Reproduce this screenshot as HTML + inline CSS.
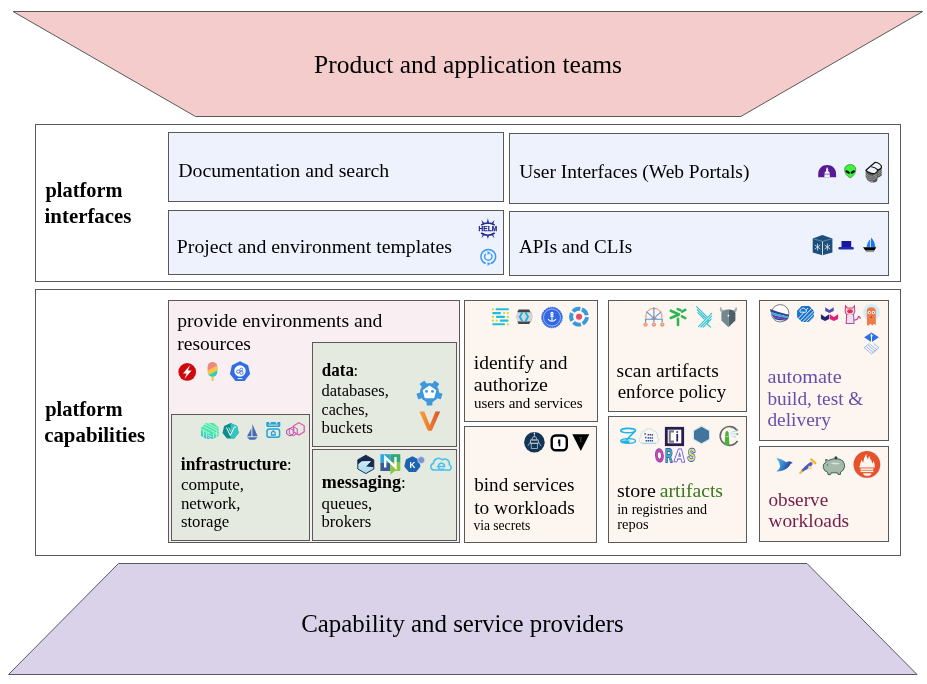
<!DOCTYPE html>
<html><head><meta charset="utf-8"><title>Platform</title>
<style>html,body{margin:0;padding:0;background:#fff;width:927px;height:684px;overflow:hidden}
text{white-space:pre}</style></head>
<body>
<svg width="927" height="684" viewBox="0 0 927 684" font-family="Liberation Serif, serif" style="display:block;will-change:transform"><polygon points="13,11.5 922.7,11.5 740.8,116.5 195.5,116.5" fill="#f4cccc" stroke="#595959" stroke-width="1"/>
<polygon points="118.5,563.5 807,563.5 917,674.5 8.5,674.5" fill="#d9d2e9" stroke="#595959" stroke-width="1"/>
<rect x="35.5" y="124.5" width="865" height="157" fill="#ffffff" stroke="#595959" stroke-width="1"/>
<rect x="168.5" y="132.5" width="335" height="69" fill="#eef2fc" stroke="#595959" stroke-width="1"/>
<rect x="509.5" y="133.5" width="379" height="70" fill="#eef2fc" stroke="#595959" stroke-width="1"/>
<rect x="168.5" y="210.5" width="335" height="64" fill="#eef2fc" stroke="#595959" stroke-width="1"/>
<rect x="509.5" y="211.5" width="379" height="64" fill="#eef2fc" stroke="#595959" stroke-width="1"/>
<rect x="35.5" y="289.5" width="865" height="266" fill="#ffffff" stroke="#595959" stroke-width="1"/>
<rect x="168.5" y="300.5" width="291" height="242" fill="#f9eef2" stroke="#595959" stroke-width="1"/>
<rect x="171.5" y="414.5" width="138" height="126" fill="#e5eae0" stroke="#595959" stroke-width="1"/>
<rect x="312.5" y="342.5" width="144" height="104" fill="#e5eae0" stroke="#595959" stroke-width="1"/>
<rect x="312.5" y="449.5" width="144" height="91" fill="#e5eae0" stroke="#595959" stroke-width="1"/>
<rect x="464.5" y="300.5" width="133" height="121" fill="#fdf5ef" stroke="#595959" stroke-width="1"/>
<rect x="464.5" y="426.5" width="132" height="116" fill="#fdf5ef" stroke="#595959" stroke-width="1"/>
<rect x="608.5" y="300.5" width="138" height="111" fill="#fdf5ef" stroke="#595959" stroke-width="1"/>
<rect x="608.5" y="416.5" width="138" height="126" fill="#fdf5ef" stroke="#595959" stroke-width="1"/>
<rect x="759.5" y="300.5" width="129" height="140" fill="#fdf5ef" stroke="#595959" stroke-width="1"/>
<rect x="759.5" y="446.5" width="129" height="95" fill="#fdf5ef" stroke="#595959" stroke-width="1"/>
<defs>
<linearGradient id="gV" x1="0" y1="0" x2="1" y2="0"><stop offset="0" stop-color="#f7a23a"/><stop offset="0.5" stop-color="#ef7a2e"/><stop offset="1" stop-color="#d9532a"/></linearGradient>
<linearGradient id="gStripe" x1="0.3" y1="0" x2="0" y2="1"><stop offset="0" stop-color="#44eca8"/><stop offset="0.55" stop-color="#42e6ae"/><stop offset="1" stop-color="#3a9cee"/></linearGradient>
<linearGradient id="gBird" x1="0" y1="0" x2="1" y2="0.4"><stop offset="0" stop-color="#6ab9e6"/><stop offset="0.5" stop-color="#3a88cf"/><stop offset="1" stop-color="#23378a"/></linearGradient>
<linearGradient id="gCat" x1="0" y1="0" x2="1" y2="1"><stop offset="0" stop-color="#e8305a"/><stop offset="1" stop-color="#8a60c8"/></linearGradient>
<rect id="tooth" x="-2.9" y="-12.8" width="5.8" height="5" rx="0.6"/>
<clipPath id="cHexZ"><polygon points="365.8,455.2 373.8,459.8 373.8,469 365.8,473.6 357.8,469 357.8,459.8"/></clipPath>
<linearGradient id="gZ" x1="0" y1="0" x2="0" y2="1"><stop offset="0" stop-color="#d4eef7"/><stop offset="1" stop-color="#98d4ec"/></linearGradient>
<clipPath id="cPop"><rect x="207.8" y="362.2" width="9.5" height="14.8" rx="4.7"/></clipPath>
<clipPath id="cHexG"><polygon points="206,422.9 213.6,422.9 218.9,427.8 218.9,435.8 213.2,439 206.4,439 200.9,435.8 200.9,427.8"/></clipPath>
<clipPath id="cBP"><polygon points="802,306.1 809.2,306.1 814,311 814,317.2 809.2,322.1 802,322.1 797.1,317.2 797.1,311"/></clipPath>
</defs>

<!-- ===== platform interfaces ===== -->
<!-- HELM -->
<g transform="translate(487.9,228.5)" fill="#232a8e">
 <path d="M-6.8,-3.3 Q0,-7.7 6.8,-3.3" fill="none" stroke="#232a8e" stroke-width="1.6"/>
 <polygon points="-1.2,-5 0,-10.4 1.2,-5"/>
 <polygon points="-5.2,-4 -6.4,-8.6 -3.2,-5"/>
 <polygon points="5.2,-4 6.6,-8.6 3.2,-5"/>
 <text x="0" y="2.5" font-family="Liberation Sans, sans-serif" font-weight="bold" font-size="6.6" text-anchor="middle" textLength="18.6" lengthAdjust="spacingAndGlyphs" stroke="#232a8e" stroke-width="0.25">HELM</text>
 <path d="M-6.8,4.5 Q0,9 6.8,4.5" fill="none" stroke="#232a8e" stroke-width="1.6"/>
 <polygon points="-1.2,6.4 0,10.5 1.2,6.4"/>
 <polygon points="-4.9,5 -6.4,10 -3.2,5.8"/>
 <polygon points="4.9,5 6.6,10 3.2,5.8"/>
</g>
<!-- circular arrows -->
<g transform="translate(488.3,256.6)" fill="none" stroke="#3e9bf2">
 <path d="M-2.6,6.9 A7.3,7.3 0 1 1 2.6,6.9" stroke-width="1.5"/>
 <path d="M2.3,-2.9 A3.7,3.7 0 1 1 -2.3,-2.9" stroke-width="1.4"/>
 <polygon points="-0.8,-5.6 2.4,-3.7 -0.8,-1.8" fill="#3e9bf2" stroke="none"/>
 <polygon points="-0.8,5.3 2.6,7.2 -0.8,9.1" fill="#3e9bf2" stroke="none"/>
</g>
<!-- purple dome -->
<path d="M818.2,177.2 L818.2,174.2 C818.2,168.4 822.2,165.1 827.15,165.1 C832.1,165.1 836.1,168.4 836.1,174.2 L836.1,177.2 Z" fill="#581b95"/>
<polygon points="827.1,166.9 825.9,169.8 826.3,170.8 824.7,172.6 824.3,177.3 830,177.3 829.6,172.6 828,170.8 828.4,169.8" fill="#eef2fc"/>
<line x1="824.5" y1="174.2" x2="829.8" y2="174.2" stroke="#581b95" stroke-width="0.6"/>
<!-- alien -->
<path d="M850.2,178 C846.4,176 844.6,172.6 844.6,169.6 C844.6,166.4 847.2,164.6 850.2,164.6 C853.2,164.6 855.8,166.4 855.8,169.6 C855.8,172.6 854,176 850.2,178 Z" fill="#3ef23e" stroke="#1f7a1f" stroke-width="0.6"/>
<ellipse cx="847.6" cy="172" rx="2.4" ry="1.2" transform="rotate(28 847.6 172)" fill="#000"/>
<ellipse cx="852.8" cy="172" rx="2.4" ry="1.2" transform="rotate(-28 852.8 172)" fill="#000"/>
<!-- backstage stack -->
<g>
 <path d="M865.7,170.3 L865.7,177.3 Q868.5,182.6 872.3,182.6 Q876,182.6 877.2,181 L877.6,177.7 Q879.5,177.7 881.7,175.6 L881.7,166.6 L875.2,162.1 Z" fill="#565656"/>
 <g stroke="#bdbdbd" stroke-width="0.6" fill="none">
  <path d="M865.7,173 Q869,177 872.5,176.4 Q876,175.6 876.5,172.6"/>
  <path d="M865.7,174.8 Q869,178.8 872.5,178.2 Q876,177.4 876.7,174.4"/>
  <path d="M865.7,176.6 Q869,180.6 872.5,180 Q876,179.2 876.9,176.2"/>
  <path d="M867.2,180.4 Q870,182 873,181.6"/>
  <path d="M877.6,172 Q880.5,171.4 881.7,169.4"/><path d="M877.6,173.8 Q880.5,173.2 881.7,171.2"/><path d="M877.6,175.6 Q880.5,175 881.7,173"/>
 </g>
 <path d="M865.9,170.3 L875.2,162.3 Q879.8,163.2 881.4,166.2 Q882,168.8 877.8,169.9 Q877.4,172.3 875.2,173.3 Q871.8,174.4 868.2,172.1 Z" fill="#eef2fc" stroke="#111" stroke-width="1.15" stroke-linejoin="round"/>
 <path d="M871.3,166.7 Q875.6,167.3 877.8,169.9" fill="none" stroke="#111" stroke-width="1.15"/>
</g>
<!-- blue cube -->
<polygon points="812.7,238.6 822.4,235 832.4,238.6 832.4,252.6 822.4,255.3 812.7,252.6" fill="#1d4f7c"/>
<polyline points="813.5,238.9 822.5,241.4 831.6,238.9" fill="none" stroke="#8fa9c2" stroke-width="0.6"/>
<line x1="822.5" y1="241.5" x2="822.5" y2="255.2" stroke="#eef2fc" stroke-width="0.9"/>
<g stroke="#dfe7ef" stroke-width="0.8" fill="none">
 <path d="M817.6,243.5 V250.5 M814.9,245 L820.3,249 M820.3,245 L814.9,249"/>
 <path d="M827.4,243.5 V250.5 M824.7,245 L830.1,249 M830.1,245 L824.7,249"/>
</g>
<!-- hat -->
<rect x="841.5" y="241" width="9.7" height="6.4" fill="#16199c"/>
<rect x="838.4" y="247" width="15.4" height="2.6" rx="1.1" fill="#232ab0"/>
<!-- sailboat -->
<path d="M866.6,247.6 Q867.3,241.6 870.2,239.6 L870.2,247.6 Z" fill="#2b80f6"/>
<path d="M871,247.6 L871,237.5 Q874.6,240.5 875.4,247.6 Z" fill="#1f76f3"/>
<path d="M863,247.3 L876.3,247.3 L874.3,250.6 L865.4,250.6 Z" fill="#000"/>
<line x1="865.8" y1="251.6" x2="874.2" y2="251.6" stroke="#888" stroke-width="0.9"/>

<!-- ===== provide environments ===== -->
<circle cx="187.2" cy="371.9" r="8.85" fill="#cf0a0a"/>
<polygon points="190.2,364.9 183,373.4 186.7,373.4 184.3,379 191.6,370.5 187.9,370.5" fill="#fff"/>
<g clip-path="url(#cPop)">
 <rect x="207" y="361" width="11" height="17" fill="#2ecfb2"/>
 <polygon points="207,361 218,361 218,370 207,376" fill="#f8c542"/>
 <polygon points="207,361 218,361 218,365 207,371" fill="#f2877f"/>
</g>
<rect x="211.4" y="376.6" width="2.4" height="4.6" rx="1.2" fill="#f6c56a"/>
<polygon points="240,361.3 248.1,365.2 250.1,374 244.5,381.1 235.5,381.1 229.9,374 231.9,365.2" fill="#326ce5"/>
<circle cx="240" cy="371" r="5.7" fill="#fff"/>
<g fill="none" stroke="#326ce5" stroke-width="0.9"><circle cx="238.2" cy="371.6" r="1.6"/><circle cx="241.3" cy="369.5" r="1.4"/><circle cx="241.5" cy="372.8" r="1.6"/></g>
<rect x="237.6" y="378.2" width="4.8" height="0.9" fill="#fff"/>

<!-- ===== infrastructure ===== -->
<g clip-path="url(#cHexG)">
 <rect x="200" y="422" width="20" height="18" fill="url(#gStripe)"/>
 <g stroke="#d4eee2" stroke-width="0.85" fill="none">
  <path d="M200,424.6 L219,434.8 M201.5,422.3 L220,432.2 M198.5,427.4 L210,433.6 M204.5,421.5 L220,429.8"/>
  <path d="M203.6,430.2 V441 M206.6,432.6 V441 M213.4,433.4 V441 M216.4,431.6 V441"/>
  <path d="M208.2,435 L211.6,436.8 M208.2,437.4 L211.6,439.2"/>
 </g>
</g>
<polygon points="230.6,422.9 237.1,426 238.7,433 234.2,438.6 227,438.6 222.5,433 224.1,426" fill="#0f8b8b"/>
<polygon points="230.6,422.9 237.1,426 238.7,433 234.2,438.6 230.6,438.6" fill="#33c6c1"/>
<polyline points="226.4,427.5 230.3,435.5 234.4,427" fill="none" stroke="#fff" stroke-width="1"/>
<polyline points="228.8,427.5 230.6,431.5" fill="none" stroke="#fff" stroke-width="0.8"/>
<circle cx="235.2" cy="427" r="0.8" fill="#fff"/>
<polygon points="252.4,424.1 257.7,436.3 252.4,436.3" fill="#466cb2"/>
<polygon points="251.3,428.4 251.3,436.3 247,436.3" fill="#466cb2"/>
<polygon points="247,437.2 257.7,437.2 254.8,439.8 249.6,439.8" fill="#466cb2"/>
<!-- rook -->
<path d="M266.3,422 H269.2 V423.6 H270.8 V422 H275.8 V423.6 H277.4 V422 H280.3 V425.4 Q280.3,426.9 278.8,426.9 H267.8 Q266.3,426.9 266.3,425.4 Z" fill="#26a3d4"/>
<rect x="268.4" y="424.6" width="9.8" height="0.9" fill="#e6ebe2"/>
<rect x="267" y="428.9" width="12.6" height="8.4" rx="2.4" fill="none" stroke="#26a3d4" stroke-width="1.5"/>
<path d="M271.5,435 V432.5 L273.3,430.8 L275.1,432.5 V435 Z" fill="none" stroke="#26a3d4" stroke-width="1.3"/>
<!-- pink hexagons -->
<g fill="none">
 <polygon points="290,428.3 293.3,430.2 293.3,434 290,435.9 286.7,434 286.7,430.2" stroke="#b13fb0" stroke-width="1"/>
 <polygon points="293.3,426.6 297.3,428.9 297.3,433.5 293.3,435.8 289.3,433.5 289.3,428.9" stroke="#c64bb2" stroke-width="1"/>
 <polygon points="298.9,422.7 304.2,425.8 304.2,431.9 298.9,435 293.6,431.9 293.6,425.8" stroke="#e656ae" stroke-width="1.3"/>
</g>

<!-- ===== data ===== -->
<g transform="translate(429.5,392.6)" fill="#3d98de">
 <circle r="9.6"/>
 <use href="#tooth" transform="rotate(-36)"/><use href="#tooth" transform="rotate(36)"/>
 <use href="#tooth" transform="rotate(-108)"/><use href="#tooth" transform="rotate(108)"/><use href="#tooth" transform="rotate(180)"/>
 <polygon points="0,-6.4 6.1,-2.1 4.2,4.9 -4.2,4.9 -6.1,-2.1" fill="#fff" stroke="#fff" stroke-width="1.3" stroke-linejoin="round"/>
 <circle cx="-3" cy="-1.2" r="1.45"/><circle cx="3" cy="-1.2" r="1.45"/>
</g>
<polygon points="419.3,411.6 424.2,411.6 429.8,425.2 435.4,411.6 440.2,411.6 431.7,430.8 427.9,430.8" fill="url(#gV)"/>

<!-- ===== messaging ===== -->
<polygon points="365.8,455.2 373.8,459.8 373.8,469 365.8,473.6 357.8,469 357.8,459.8" fill="#152a4c"/>
<polygon clip-path="url(#cHexZ)" points="357,465.2 361.8,461.3 371.2,461.1 366.2,466.4 374.5,467.4 374.5,475 357,475" fill="url(#gZ)"/>
<polygon points="365.8,455.2 373.8,459.8 373.8,469 365.8,473.6 357.8,469 357.8,459.8" fill="none" stroke="#152a4c" stroke-width="0.9"/>
<rect x="380.4" y="454.2" width="9.95" height="8.4" fill="#27aae1"/>
<rect x="390.35" y="454.2" width="9.95" height="8.4" fill="#34a574"/>
<rect x="380.4" y="462.6" width="9.95" height="8.4" fill="#375c93"/>
<rect x="390.35" y="462.6" width="9.95" height="8.4" fill="#8dc63f"/>
<polygon points="390.4,470.9 394.8,470.9 390.4,474.8" fill="#8dc63f"/>
<polyline points="385.2,467.6 385.2,457.4 395.5,467.2 395.5,457" fill="none" stroke="#fff" stroke-width="2.3" stroke-linejoin="miter"/>
<polygon points="412.4,456.3 418.9,459.4 420.5,466.4 416,472.1 408.8,472.1 404.3,466.4 405.9,459.4" fill="#1c63b2"/>
<circle cx="421.2" cy="460.1" r="3.5" fill="#7896d4" stroke="#e6ebe2" stroke-width="0.6"/>
<text x="412.4" y="468" font-family="Liberation Sans, sans-serif" font-weight="bold" font-size="8.2" fill="#fff" text-anchor="middle">K</text>
<g fill="none" stroke="#43c2f2" stroke-width="1.5" stroke-linecap="round">
 <path d="M434.2,470.1 A3.4,3.4 0 0 1 433.4,463.4 A5.2,5.2 0 0 1 442.3,459.9 A4.6,4.6 0 0 1 449.3,464.8 A2.8,2.8 0 0 1 447.4,470.1 Z"/>
 <path d="M437.6,466.4 H444.6 A3.2,3.2 0 1 0 443.4,468.9"/>
</g>

<!-- ===== identify ===== -->
<g stroke="#1fbfdc" stroke-width="2.1" stroke-linecap="round">
 <line x1="496.6" y1="309.3" x2="507.9" y2="309.3"/>
 <line x1="493.2" y1="313.1" x2="500" y2="313.1"/>
 <line x1="496.9" y1="316.9" x2="504" y2="316.9"/>
 <line x1="500.7" y1="320.6" x2="507.5" y2="320.6"/>
 <line x1="493.2" y1="324.3" x2="504" y2="324.3"/>
</g>
<g fill="#c6dc30">
 <circle cx="492.9" cy="309.3" r="1.15"/><circle cx="504.1" cy="313.1" r="1.15"/><circle cx="507.9" cy="313.1" r="1.15"/>
 <circle cx="492.9" cy="316.9" r="1.15"/><circle cx="507.9" cy="316.9" r="1.15"/>
 <circle cx="492.9" cy="320.6" r="1.15"/><circle cx="496.7" cy="320.6" r="1.15"/><circle cx="507.9" cy="324.3" r="1.15"/>
</g>
<!-- keycloak -->
<polygon points="515.4,316.8 518,311.8 530,311.8 532.2,316.8 530,321.8 518,321.8" fill="#d6d6d6"/>
<polygon points="530,311.8 532.2,316.8 530,321.8 531.3,321.8 532.6,316.8 531.3,311.8" fill="#bbb"/>
<polygon points="518.6,309.6 529.2,309.6 530.6,312.2 517.2,312.2" fill="#454545"/>
<polygon points="517.2,321.4 530.6,321.4 529.2,324 518.6,324" fill="#454545"/>
<polyline points="522.3,312.4 519.8,316.8 522.3,321.2" fill="none" stroke="#13b3e8" stroke-width="1.9"/>
<polyline points="525.5,312.4 528,316.8 525.5,321.2" fill="none" stroke="#13b3e8" stroke-width="1.9"/>
<!-- cert-manager badge -->
<g transform="translate(552,317.5)">
 <circle r="10.3" fill="#3468e2" stroke="#3468e2" stroke-width="1" stroke-dasharray="1.4 0.9"/>
 <circle r="8.5" fill="none" stroke="#dfe8fb" stroke-width="0.6"/>
 <g stroke="#fff" stroke-width="1.1" fill="none"><circle cx="0" cy="-4" r="1.1"/><line x1="0" y1="-2.9" x2="0" y2="3.6"/><path d="M-4,1.6 Q0,6 4,1.6"/><line x1="-1.8" y1="-1.4" x2="1.8" y2="-1.4"/></g>
</g>
<!-- rotor -->
<g transform="translate(579,316.7)">
 <circle r="7.9" fill="none" stroke="#3b99da" stroke-width="3.9" stroke-dasharray="8.0 1.93" transform="rotate(-69)"/>
 <circle r="3" fill="#e84a5e"/>
</g>

<!-- ===== bind ===== -->
<circle cx="534.4" cy="442.2" r="10.3" fill="#113457"/>
<g stroke="#dfe6ee" stroke-width="0.65" fill="none">
 <line x1="534.4" y1="433.6" x2="534.4" y2="436.6"/>
 <path d="M531.6,440 L533,436.8 H535.8 L537.2,440 Z"/>
 <rect x="530.6" y="440" width="7.6" height="3.2"/>
 <rect x="531.2" y="443.2" width="6.4" height="5.2"/>
 <path d="M530.6,441.6 L527.8,446 M538.2,441.6 L541,446"/>
</g>
<circle cx="534.4" cy="433.4" r="0.8" fill="#dfe6ee"/>
<rect x="551.7" y="435.5" width="15.1" height="14.7" rx="4" fill="#fff" stroke="#000" stroke-width="2.4"/>
<path d="M558.2,439.6 H560.3 V446.2 H558.6 V443.6 L557.6,442.8 L558.2,442 Z" fill="#000"/>
<polygon points="572.3,434.3 589.3,434.3 580.8,451.1" fill="#000"/>
<g fill="#777"><rect x="579.5" y="437.3" width="1" height="1"/><rect x="581.1" y="437.3" width="1" height="1"/><rect x="580.3" y="438.9" width="1" height="1"/><rect x="580.3" y="440.5" width="1" height="1.6"/></g>

<!-- ===== scan ===== -->
<g fill="none" stroke="#ec8a66" stroke-width="1.0">
 <path d="M645.9,318.6 Q645.2,309.2 653.9,308.2 Q662.6,309.2 661.9,318.6"/>
 <path d="M651.6,318.4 A2.4,2.4 0 0 1 656.2,318.4 Z" fill="#e8865e"/>
 <g fill="#f2b39a"><circle cx="645.5" cy="324.6" r="1.7"/><circle cx="653.9" cy="324.6" r="1.7"/><circle cx="662.3" cy="324.6" r="1.7"/></g>
</g>
<g fill="none" stroke="#4f94da" stroke-width="1.15">
 <line x1="653.9" y1="307.2" x2="653.9" y2="322.2"/>
 <line x1="646.4" y1="311.6" x2="652.2" y2="316.6"/>
 <line x1="661.4" y1="311.6" x2="655.6" y2="316.6"/>
 <path d="M645.6,322.3 V319.2 H662.2 V322.3"/>
</g>
<g fill="none" stroke="#2fb552" stroke-width="2.6" stroke-linecap="round" stroke-linejoin="round">
 <polyline points="670.8,310.7 679,314.5 670.8,318"/>
 <line x1="677.7" y1="309.1" x2="680.2" y2="310"/>
 <line x1="681.9" y1="311.6" x2="685.3" y2="309.8"/>
 <line x1="681.9" y1="316.3" x2="685.3" y2="318.1"/>
 <line x1="678" y1="318.8" x2="678" y2="325"/>
</g>
<g fill="none" stroke="#2fc3d3" stroke-width="1.15" stroke-linecap="round">
 <line x1="696.6" y1="306.6" x2="707.2" y2="317.2"/>
 <line x1="697.2" y1="309.6" x2="705.6" y2="318"/>
 <line x1="697.8" y1="312.6" x2="704.2" y2="319"/>
 <line x1="711.6" y1="313.4" x2="698.4" y2="326.6"/>
 <line x1="711.6" y1="316.2" x2="700.8" y2="327"/>
 <line x1="711.2" y1="319.2" x2="703.2" y2="327.2"/>
 <polyline points="708.4,320.4 707.4,324.2 710.6,327.2"/>
</g>
<!-- OPA -->
<path d="M722.6,313.4 Q718.4,311 720.6,306.6 Q721.4,309.8 724.6,311.2 Z" fill="#a9b1b4"/>
<path d="M734.2,313.4 Q738.4,311 736.2,306.6 Q735.4,309.8 732.2,311.2 Z" fill="#a9b1b4"/>
<path d="M728.4,309.6 Q734.6,309.6 735.4,313.4 L735.4,320.6 L728.4,327.2 Z" fill="#4e5f68"/>
<path d="M728.4,309.6 Q722.2,309.6 721.4,313.4 L721.4,320.6 L728.4,327.2 Z" fill="#72878f"/>
<circle cx="728.4" cy="315.6" r="0.95" fill="#fff"/>

<!-- ===== store ===== -->
<g fill="none" stroke="#1cb4e6" stroke-width="1.6">
 <ellipse cx="628.1" cy="430.6" rx="7.4" ry="2.2"/>
 <path d="M634.5,431.8 L626,440.4"/>
 <ellipse cx="628.1" cy="440.9" rx="7.4" ry="2.3" stroke-width="1.4"/>
</g>
<path d="M620.8,440.5 A7.4,2.3 0 0 0 628.5,443.2 L630,440.5 Z" fill="#1cb4e6"/>
<!-- cloud grid -->
<path d="M642.6,443.4 A3.6,3.6 0 0 1 641,436.8 A4.4,4.4 0 0 1 644.8,431 A5.6,5.6 0 0 1 653.6,430.8 A4.4,4.4 0 0 1 657.2,436.8 A3.6,3.6 0 0 1 655.6,443.4 Z" fill="none" stroke="#9fd6e8" stroke-width="1" stroke-dasharray="1.2 0.7"/>
<line x1="642.5" y1="443.4" x2="656" y2="443.4" stroke="#9fd6e8" stroke-width="1.2"/>
<g fill="#2d4fa4">
 <rect x="644.3" y="433.2" width="1.5" height="1.5"/><rect x="647.6" y="434" width="1.5" height="1.5"/><rect x="649.6" y="434" width="1.5" height="1.5"/><rect x="651.6" y="434.2" width="1.5" height="1.5"/>
 <rect x="645" y="436.8" width="1.5" height="1.5"/><rect x="647.6" y="437.2" width="1.5" height="1.5"/><rect x="649.6" y="437.2" width="1.5" height="1.5"/><rect x="651.6" y="437.2" width="1.5" height="1.5"/>
 <rect x="645.6" y="440" width="1.5" height="1.5"/><rect x="647.6" y="440" width="1.5" height="1.5"/><rect x="649.6" y="440" width="1.5" height="1.5"/><rect x="651.6" y="440" width="1.5" height="1.5"/>
</g>
<!-- Ci -->
<rect x="666.3" y="428.3" width="16.4" height="16.4" fill="#fff" stroke="#2a1b50" stroke-width="2.8"/>
<path d="M674,431.4 H669.8 V441.6 H674" fill="none" stroke="#7b7b7b" stroke-width="2.1"/>
<rect x="676.4" y="431.2" width="1.7" height="1.6" fill="#2a1b50"/>
<rect x="676.4" y="434" width="1.7" height="7.6" fill="#2a1b50"/>
<!-- steel hexagon -->
<polygon points="701.5,425.3 710.3,430.3 710.3,439.7 701.5,444.7 692.7,439.7 692.7,430.3" fill="#dbe8f1"/>
<polygon points="701.5,426.8 709,431.1 709,438.9 701.5,443.2 694,438.9 694,431.1" fill="#41759d"/>
<!-- harbor -->
<path d="M737.6,440.8 A9.4,9.4 0 1 1 737.3,430.6" fill="none" stroke="#676767" stroke-width="1.6"/>
<path d="M724.5,445.2 L725.4,432.5 L727,430.5 L728.6,432.5 L729.5,445.2 Z" fill="#4cb13e"/>
<line x1="725.5" y1="436.5" x2="728.5" y2="436.5" stroke="#d9f0d0" stroke-width="0.6"/>
<g fill="#a8dcf2"><polygon points="729.2,433 736.8,429.6 737.6,431.2"/><polygon points="729.2,433.6 738,433.2 737.8,434.8"/><polygon points="729.2,434.2 736.4,436.8 735.4,438"/></g>
<circle cx="736.9" cy="430" r="0.9" fill="#7b8a90"/><circle cx="737.4" cy="434.2" r="0.9" fill="#7b8a90"/>
<!-- ORAS -->
<g font-family="Liberation Sans, sans-serif" font-weight="bold" font-size="17.5" stroke="#5a4bd0" stroke-width="1.9" paint-order="stroke" stroke-linejoin="round" lengthAdjust="spacingAndGlyphs">
 <text x="655.2" y="461.4" fill="#e2418c" textLength="8.4" lengthAdjust="spacingAndGlyphs" transform="rotate(-5 659.4 455)">O</text>
 <text x="665.2" y="461.8" fill="#2fb6a6" textLength="7.2" lengthAdjust="spacingAndGlyphs">R</text>
 <text x="674.4" y="461.6" fill="#fcfcff" textLength="10.6" lengthAdjust="spacingAndGlyphs" transform="rotate(3 679.6 455)">A</text>
 <text x="687.8" y="460.8" fill="#c8f062" textLength="7.6" lengthAdjust="spacingAndGlyphs" transform="rotate(5 691.5 454.5)">S</text>
</g>

<!-- ===== automate ===== -->
<g transform="translate(780.2,313.3)">
 <circle r="8.7" fill="#fff" stroke="#7a7a7a" stroke-width="1"/>
 <path d="M-10.2,-4.2 Q-4,-1.5 8.8,1.4 L8.7,3.4 Q-2,1.2 -9.5,-1.4 Z" fill="#3a3c9c"/>
 <path d="M-9.5,-1.4 Q-2,1.2 8.7,3.4 L8.2,4.8 Q-2,3.4 -8.6,1.2 Z" fill="#27b6d6"/>
 <path d="M-8.6,1.2 Q-2,3.4 8.2,4.8 L7.2,6.4 Q-2,5.8 -7,4 Z" fill="#6a3ca8"/>
 <path d="M-7,4 Q-2,5.8 7.2,6.4 L5.6,7.2 Q-1,7.4 -5,6 Z" fill="#2c3f8f"/>
</g>
<g clip-path="url(#cBP)">
 <rect x="797" y="306" width="17.2" height="16.2" fill="#1b73c9"/>
 <g stroke="#fff" stroke-width="0.9">
  <line x1="798" y1="323" x2="812" y2="308"/><line x1="800.5" y1="324" x2="815" y2="309.5"/><line x1="803" y1="325" x2="816" y2="311.5"/><line x1="795.5" y1="321.5" x2="808" y2="308"/><line x1="806" y1="325" x2="816" y2="314.5"/>
 </g>
 <rect x="797" y="306" width="9" height="6" fill="#1b73c9"/>
 <path d="M800.2,312.2 A2,2 0 0 1 801.4,309.2 A2.2,2.2 0 0 1 805.4,309.6 A1.5,1.5 0 0 1 805.8,312.2 Z" fill="none" stroke="#fff" stroke-width="0.9"/>
</g>
<g>
 <polygon points="825.2,307.2 829.4,309.9 833.7,307.2 833.7,310.9 829.4,313 825.2,310.9" fill="#4b50b4"/>
 <polygon points="820.9,314.2 825,316.9 829.2,314.2 829.2,318.9 825,321 820.9,318.9" fill="#23276d"/>
 <polygon points="829.7,314.2 833.9,316.9 838.1,314.2 838.1,318.9 833.9,321 829.7,318.9" fill="#e2207c"/>
</g>
<!-- cat -->
<g fill="none" stroke="url(#gCat)" stroke-width="1.05">
 <path d="M845.6,305.8 L847.3,308 L852.6,308 L854.4,305.8 L854.8,311 Q854.6,315.4 850,315.4 Q845.4,315.4 845.2,311 Z" fill="#f6d6dc"/>
 <path d="M846.6,315 L846.2,323.4 H854 L853.6,315 Z" fill="#efe0f0" stroke="none"/>
 <path d="M846.6,315 L846.2,323.4 H854 L853.6,315"/>
 <line x1="848.6" y1="317" x2="848.6" y2="323.4"/><line x1="851.4" y1="317" x2="851.4" y2="323.4"/>
 <path d="M854,320 Q858,320 858.4,316.6 Q860.6,316.4 860.2,318.8" stroke-width="1.1"/>
</g>
<ellipse cx="850" cy="311.3" rx="2.8" ry="2" fill="#e2304e"/>
<!-- argo -->
<circle cx="871.4" cy="312.4" r="8.4" fill="#d3edf6"/>
<path d="M867,325.2 L866.7,311.4 Q866.7,307.3 871.2,307.3 Q875.8,307.3 875.8,311.4 L875.8,325.2 L874,323.8 L872.4,325.4 L870.4,323.8 L868.6,325.4 Z" fill="#ef7b4c"/>
<circle cx="869.2" cy="312.6" r="1.6" fill="#fff"/><circle cx="873.4" cy="312.6" r="1.6" fill="#fff"/>
<circle cx="869.3" cy="312.7" r="0.6" fill="#333"/><circle cx="873.3" cy="312.7" r="0.6" fill="#333"/>
<ellipse cx="871.3" cy="317" rx="0.9" ry="0.6" fill="#5a2a18"/>
<!-- diamond -->
<polygon points="871.5,332.4 878.9,337.3 871.5,342.2 864.1,337.3" fill="#2e6fe6"/>
<path d="M871.5,333.6 L870,336.2 H871 V346.5 H872 V336.2 H873 Z" fill="#fff"/>
<g fill="none" stroke="#6c9ff0" stroke-width="0.7">
 <polyline points="869.3,343.6 864.1,347.7 871.5,353.8 878.9,347.7 873.7,343.6"/>
 <line x1="866.4" y1="346.8" x2="873.8" y2="352.8"/><line x1="868.2" y1="345.4" x2="875.6" y2="351.4"/><line x1="869.9" y1="344.2" x2="877.2" y2="350"/>
</g>

<!-- ===== observe ===== -->
<path d="M776.2,457.8 Q781,458.8 786.4,462.2 Q788.6,460.9 790.6,461.5 L792.7,463 L790.7,463.8 Q788.4,468.8 782.2,470.8 Q779.2,471.7 776.4,471.6 Q779.8,469.4 780.2,466.6 Q779.6,461.6 776.2,457.8 Z" fill="url(#gBird)"/>
<g stroke-linecap="round">
 <line x1="805.6" y1="468.2" x2="810.8" y2="463.8" stroke="#4b5cc1" stroke-width="3.6"/>
 <line x1="802.6" y1="470.6" x2="804.8" y2="468.8" stroke="#4b5cc1" stroke-width="2.6"/>
 <line x1="811.4" y1="459.6" x2="815.2" y2="463" stroke="#f5b830" stroke-width="2.6"/>
 <line x1="800.2" y1="473" x2="801.8" y2="471.4" stroke="#f5b830" stroke-width="2"/>
</g>
<circle cx="809.8" cy="467.4" r="1.3" fill="#fdf5ef" stroke="#f5b830" stroke-width="0.9"/>
<!-- piggy -->
<path d="M824.6,470.6 Q822.6,467.6 823.4,464.4 L826,462.2 L825.6,459.4 L828.4,460.4 Q832.8,458.2 837.8,458.8 Q844.6,459.8 844.6,466.2 Q844.4,470.6 840.6,472 L840.4,474.4 L838,474.4 L837.6,472.8 L831.2,472.8 L830.6,474.6 L828,474.6 L827.6,472.2 Z" fill="#a5b9ad" stroke="#2b5844" stroke-width="0.9"/>
<path d="M830,463 Q835,461.6 840,463.4 Q836,465.8 830,463 Z" fill="#d9e4dc"/>
<circle cx="835.9" cy="457.8" r="1.5" fill="#1c4a35"/>
<circle cx="827.5" cy="464.8" r="0.6" fill="#2b5844"/>
<!-- prometheus -->
<circle cx="866.9" cy="464.4" r="13.4" fill="#e6522c"/>
<path d="M859.3,467.4 Q860.6,462 861.8,459.6 Q862,461.8 863.2,462.6 Q863.6,457.8 866.3,454 Q866.6,458 868,459.6 Q868.2,457 869.4,456 Q869.8,459.4 871.6,460.6 Q871.8,462.8 872.4,463.4 Q873.4,462 873.6,460.8 Q875,464 874.8,467.4 Z" fill="#fdf5ef"/>
<rect x="860.5" y="468.4" width="12.8" height="1.5" fill="#fdf5ef"/>
<rect x="860.5" y="470.6" width="12.8" height="1.5" fill="#fdf5ef"/>
<path d="M863.2,473.2 H871.4 A4.1,2.6 0 0 1 863.2,473.2 Z" fill="#fdf5ef"/>

<text x="314.05" y="73.00" font-size="25" font-weight="normal" fill="#000000" textLength="307.90" lengthAdjust="spacingAndGlyphs">Product and application teams</text>
<text x="301.25" y="632.10" font-size="25" font-weight="normal" fill="#000000" textLength="322.50" lengthAdjust="spacingAndGlyphs">Capability and service providers</text>
<text x="45.54" y="197.20" font-size="22" font-weight="bold" fill="#000000" textLength="76.92" lengthAdjust="spacingAndGlyphs">platform</text>
<text x="44.54" y="222.70" font-size="22" font-weight="bold" fill="#000000" textLength="86.92" lengthAdjust="spacingAndGlyphs">interfaces</text>
<text x="45.14" y="416.10" font-size="22" font-weight="bold" fill="#000000" textLength="77.32" lengthAdjust="spacingAndGlyphs">platform</text>
<text x="44.14" y="441.90" font-size="22" font-weight="bold" fill="#000000" textLength="100.92" lengthAdjust="spacingAndGlyphs">capabilities</text>
<text x="178.21" y="176.50" font-size="19.5" font-weight="normal" fill="#000000" textLength="210.97" lengthAdjust="spacingAndGlyphs">Documentation and search</text>
<text x="176.81" y="252.70" font-size="19.5" font-weight="normal" fill="#000000" textLength="275.17" lengthAdjust="spacingAndGlyphs">Project and environment templates</text>
<text x="519.22" y="177.80" font-size="19.5" font-weight="normal" fill="#000000" textLength="230.17" lengthAdjust="spacingAndGlyphs">User Interfaces (Web Portals)</text>
<text x="519.01" y="252.80" font-size="19.5" font-weight="normal" fill="#000000" textLength="113.17" lengthAdjust="spacingAndGlyphs">APIs and CLIs</text>
<text x="177.23" y="327.30" font-size="19" font-weight="normal" fill="#000000" textLength="205.14" lengthAdjust="spacingAndGlyphs">provide environments and</text>
<text x="177.23" y="349.70" font-size="19" font-weight="normal" fill="#000000" textLength="73.74" lengthAdjust="spacingAndGlyphs">resources</text>
<text x="473.83" y="369.10" font-size="19" font-weight="normal" fill="#000000" textLength="93.54" lengthAdjust="spacingAndGlyphs">identify and</text>
<text x="473.83" y="390.50" font-size="19" font-weight="normal" fill="#000000" textLength="74.14" lengthAdjust="spacingAndGlyphs">authorize</text>
<text x="474.23" y="491.40" font-size="19" font-weight="normal" fill="#000000" textLength="100.34" lengthAdjust="spacingAndGlyphs">bind services</text>
<text x="474.23" y="513.60" font-size="19" font-weight="normal" fill="#000000" textLength="100.54" lengthAdjust="spacingAndGlyphs">to workloads</text>
<text x="616.63" y="376.60" font-size="19" font-weight="normal" fill="#000000" textLength="102.14" lengthAdjust="spacingAndGlyphs">scan artifacts</text>
<text x="617.63" y="398.30" font-size="19" font-weight="normal" fill="#000000" textLength="108.54" lengthAdjust="spacingAndGlyphs">enforce policy</text>
<text x="617.03" y="497.00" font-size="19" font-weight="normal" fill="#000000" textLength="38.74" lengthAdjust="spacingAndGlyphs">store</text>
<text x="659.83" y="497.00" font-size="19" font-weight="normal" fill="#38761d" textLength="63.14" lengthAdjust="spacingAndGlyphs">artifacts</text>
<text x="767.43" y="383.30" font-size="19" font-weight="normal" fill="#6450ac" textLength="74.34" lengthAdjust="spacingAndGlyphs">automate</text>
<text x="767.43" y="405.00" font-size="19" font-weight="normal" fill="#6450ac" textLength="95.94" lengthAdjust="spacingAndGlyphs">build, test &amp;</text>
<text x="767.43" y="426.00" font-size="19" font-weight="normal" fill="#6450ac" textLength="63.54" lengthAdjust="spacingAndGlyphs">delivery</text>
<text x="768.43" y="505.70" font-size="19" font-weight="normal" fill="#741b47" textLength="59.74" lengthAdjust="spacingAndGlyphs">observe</text>
<text x="768.43" y="527.40" font-size="19" font-weight="normal" fill="#741b47" textLength="80.74" lengthAdjust="spacingAndGlyphs">workloads</text>
<text x="321.52" y="396.00" font-size="16" font-weight="normal" fill="#000000" textLength="67.36" lengthAdjust="spacingAndGlyphs">databases,</text>
<text x="321.52" y="414.90" font-size="16" font-weight="normal" fill="#000000" textLength="46.96" lengthAdjust="spacingAndGlyphs">caches,</text>
<text x="321.52" y="433.20" font-size="16" font-weight="normal" fill="#000000" textLength="51.36" lengthAdjust="spacingAndGlyphs">buckets</text>
<text x="321.52" y="508.70" font-size="16" font-weight="normal" fill="#000000" textLength="50.76" lengthAdjust="spacingAndGlyphs">queues,</text>
<text x="321.52" y="527.00" font-size="16" font-weight="normal" fill="#000000" textLength="49.76" lengthAdjust="spacingAndGlyphs">brokers</text>
<text x="180.92" y="489.60" font-size="16" font-weight="normal" fill="#000000" textLength="63.16" lengthAdjust="spacingAndGlyphs">compute,</text>
<text x="180.92" y="508.60" font-size="16" font-weight="normal" fill="#000000" textLength="59.56" lengthAdjust="spacingAndGlyphs">network,</text>
<text x="180.92" y="526.90" font-size="16" font-weight="normal" fill="#000000" textLength="48.36" lengthAdjust="spacingAndGlyphs">storage</text>
<text x="473.97" y="408.40" font-size="14.5" font-weight="normal" fill="#000000" textLength="108.67" lengthAdjust="spacingAndGlyphs">users and services</text>
<text x="473.38" y="529.90" font-size="14" font-weight="normal" fill="#000000" textLength="56.84" lengthAdjust="spacingAndGlyphs">via secrets</text>
<text x="617.18" y="513.60" font-size="14" font-weight="normal" fill="#000000" textLength="89.84" lengthAdjust="spacingAndGlyphs">in registries and</text>
<text x="617.28" y="529.40" font-size="14" font-weight="normal" fill="#000000" textLength="31.24" lengthAdjust="spacingAndGlyphs">repos</text>
<text x="321.86" y="375.60" font-size="18" font-weight="bold" fill="#000000" textLength="32.08" lengthAdjust="spacingAndGlyphs">data</text>
<text x="353.52" y="375.60" font-size="16" font-weight="normal" fill="#000000" textLength="4.56" lengthAdjust="spacingAndGlyphs">:</text>
<text x="321.86" y="488.30" font-size="18" font-weight="bold" fill="#000000" textLength="79.08" lengthAdjust="spacingAndGlyphs">messaging</text>
<text x="401.02" y="488.30" font-size="16" font-weight="normal" fill="#000000" textLength="4.76" lengthAdjust="spacingAndGlyphs">:</text>
<text x="180.86" y="469.50" font-size="18" font-weight="bold" fill="#000000" textLength="106.08" lengthAdjust="spacingAndGlyphs">infrastructure</text>
<text x="287.02" y="469.50" font-size="16" font-weight="normal" fill="#000000" textLength="4.56" lengthAdjust="spacingAndGlyphs">:</text></svg>
</body></html>
